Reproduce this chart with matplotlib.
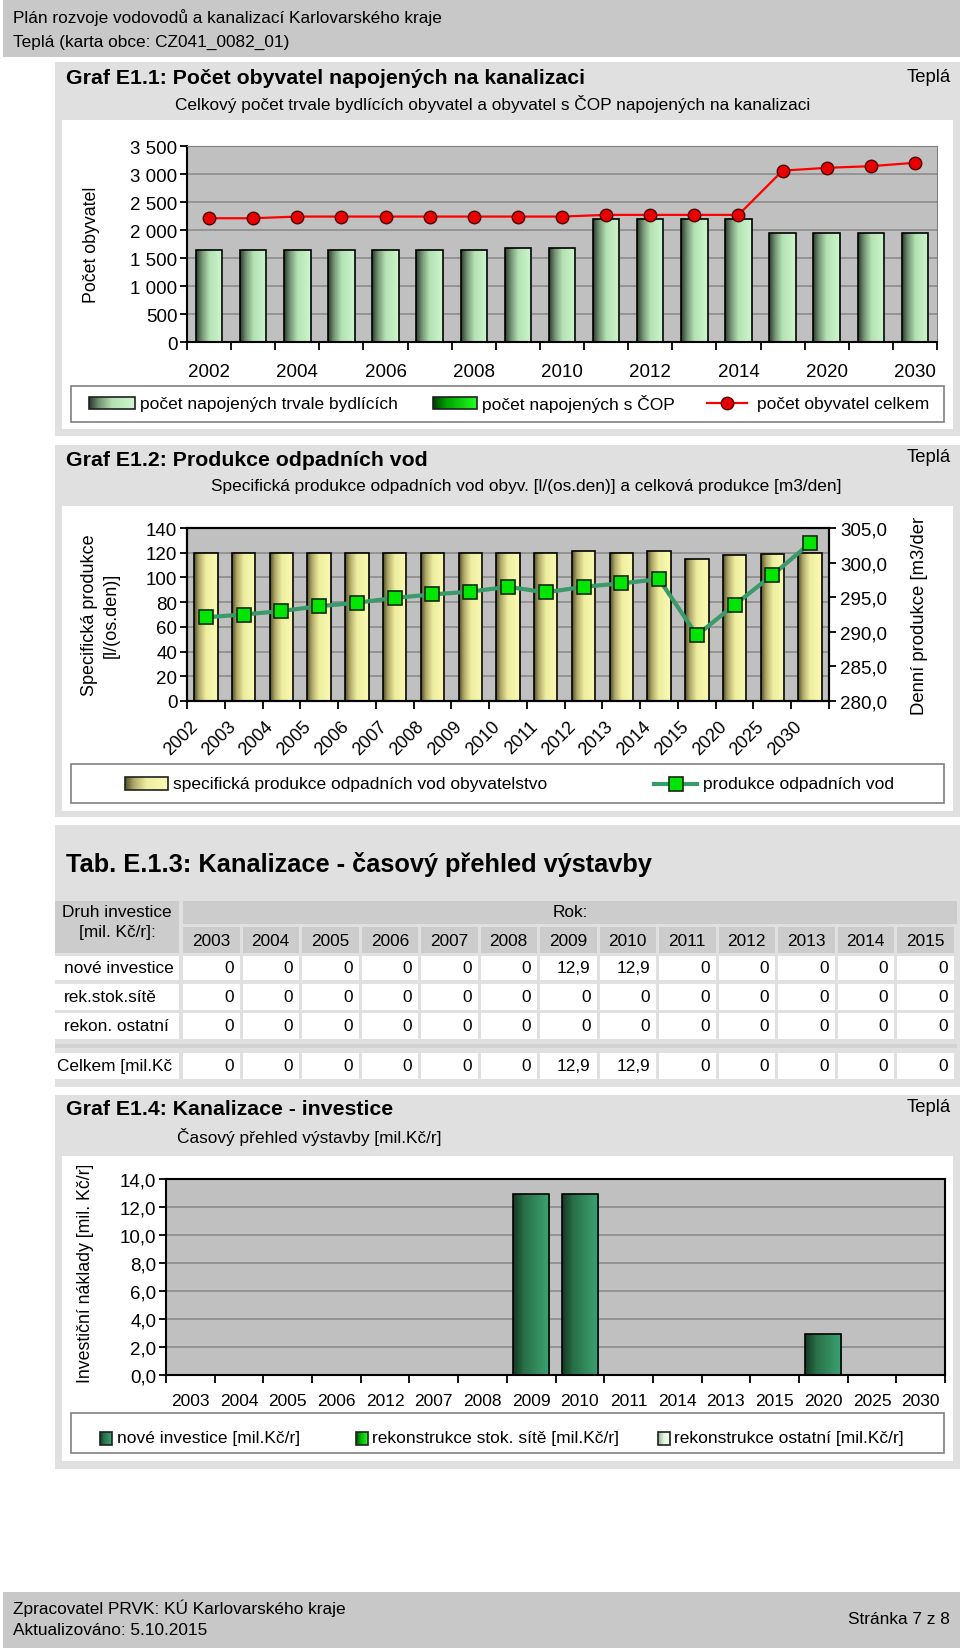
import numpy as np
import matplotlib
matplotlib.use('Agg')
import matplotlib.pyplot as plt
from matplotlib.patches import Rectangle
from matplotlib.colors import LinearSegmentedColormap
from matplotlib.ticker import FuncFormatter, MultipleLocator, FixedLocator
from matplotlib.transforms import Bbox, TransformedBbox

plt.rcParams['font.family'] = ['Liberation Sans', 'DejaVu Sans']

W, H = 960, 1649

# --- data ---
roky_1 = ['2002', '2003', '2004', '2005', '2006', '2007', '2008', '2009', '2010',
          '2011', '2012', '2013', '2014', '2015', '2020', '2025', '2030']
napojeni_trvale = [1650, 1650, 1650, 1650, 1650, 1650, 1650, 1680, 1680,
                   2200, 2200, 2200, 2200, 1940, 1940, 1940, 1940]
napojeni_cop = [0, 0, 0, 0, 0, 0, 0, 0, 0, 0, 0, 0, 0, 0, 0, 0, 0]
obyvatel_celkem = [2210, 2210, 2240, 2240, 2240, 2240, 2240, 2240, 2240,
                   2270, 2270, 2270, 2270, 3060, 3110, 3140, 3200]

roky_2 = roky_1
spec_produkce = [120, 120, 120, 120, 120, 120, 120, 120, 120,
                 120, 121.5, 120, 121.5, 115, 118, 119, 120]
produkce_vod = [292.1, 292.5, 293.0, 293.7, 294.2, 294.9, 295.4, 295.8, 296.5,
                295.7, 296.5, 297.0, 297.6, 289.5, 293.9, 298.2, 302.8]

tab_roky = ['2003', '2004', '2005', '2006', '2007', '2008', '2009', '2010',
            '2011', '2012', '2013', '2014', '2015']
nove_investice = [0, 0, 0, 0, 0, 0, 12.9, 12.9, 0, 0, 0, 0, 0]
rek_stok_site = [0, 0, 0, 0, 0, 0, 0, 0, 0, 0, 0, 0, 0]
rekon_ostatni = [0, 0, 0, 0, 0, 0, 0, 0, 0, 0, 0, 0, 0]

roky_4 = ['2003', '2004', '2005', '2006', '2012', '2007', '2008', '2009',
          '2010', '2011', '2014', '2013', '2015', '2020', '2025', '2030']
inv_nove = [0, 0, 0, 0, 0, 0, 0, 12.9, 12.9, 0, 0, 0, 0, 2.9, 0, 0]
inv_rek_stok = [0, 0, 0, 0, 0, 0, 0, 0, 0, 0, 0, 0, 0, 0, 0, 0]
inv_rek_ost = [0, 0, 0, 0, 0, 0, 0, 0, 0, 0, 0, 0, 0, 0, 0, 0]

# --- barvy ---
cm_zel = LinearSegmentedColormap.from_list('zel', [(0, '#2a3a2a'), (0.2, '#6f8f6f'), (0.5, '#b4e2b4'), (1, '#cdf6cd')])
cm_cop = LinearSegmentedColormap.from_list('cop', [(0, '#004000'), (0.3, '#00a000'), (1, '#20ff20')])
cm_zlu = LinearSegmentedColormap.from_list('zlu', [(0, '#50502a'), (0.2, '#b0a868'), (0.5, '#eeeea0'), (1, '#fafab4')])
cm_inv = LinearSegmentedColormap.from_list('inv', [(0, '#123822'), (0.3, '#2a7048'), (1, '#3ba472')])
cm_ost = LinearSegmentedColormap.from_list('ost', [(0, '#90b090'), (0.5, '#e0f8e0'), (1, '#f4fff4')])
GRAD = np.linspace(0, 1, 64).reshape(1, -1)
PANEL = '#e0e0e0'
PLOT_BG = '#c0c0c0'
GRID = '#8c8c8c'
FS = 12.4

fig = plt.figure(figsize=(W / 100, H / 100), dpi=100)
bg = fig.add_axes([0, 0, 1, 1])
bg.axis('off')


def box(x0, y0, x1, y1, fc, ec='none', lw=0, z=0):
    bg.add_patch(Rectangle((x0, y0), x1 - x0, y1 - y0, facecolor=fc, edgecolor=ec, linewidth=lw, zorder=z))


def txt(x, y, s, size=FS, **kw):
    kw.setdefault('va', 'center')
    return bg.text(x, y, s, fontsize=size, **kw)


def axes_px(x0, y0, x1, y1):
    return fig.add_axes([x0 / W, 1 - y1 / H, (x1 - x0) / W, (y1 - y0) / H])


def grad_patch(x0, y0, x1, y1, cmap, ec='#202020'):
    bg.imshow(GRAD, cmap=cmap, aspect='auto', extent=(x0, x1, y1, y0), zorder=5, interpolation='bilinear')
    box(x0, y0, x1, y1, 'none', ec, 1.2, 6)


def gradient_bars(ax, bars, cmap):
    for b in bars:
        if b.get_height() == 0:
            continue
        x, y = b.get_xy()
        im = ax.imshow(GRAD, cmap=cmap, aspect='auto', interpolation='bilinear',
                       extent=(x, x + b.get_width(), y, y + b.get_height()), zorder=2)
        im.set_clip_path(b)


def clip_text(t, x0, y0, x1, y1):
    t.set_clip_box(TransformedBbox(Bbox.from_extents(x0 / W, 1 - y1 / H, x1 / W, 1 - y0 / H), fig.transFigure))
    t.set_clip_on(True)


def cz(v, dec=1):
    return f'{v:.{dec}f}'.replace('.', ',')


def style_cat_axis(ax, n, labels, idx, pad, size, shift=0.0):
    ax.xaxis.set_major_locator(FixedLocator(np.arange(-0.5, n, 1)))
    ax.xaxis.set_major_formatter(FuncFormatter(lambda v, p: ''))
    ax.xaxis.set_minor_locator(FixedLocator(np.asarray(idx) + shift))
    ax.xaxis.set_minor_formatter(FuncFormatter(lambda v, p: labels[int(round(v - shift))]))
    ax.tick_params(axis='x', which='major', direction='out', length=6, width=1.3, color='black')
    ax.tick_params(axis='x', which='minor', length=0, pad=pad, labelsize=size)
    ax.set_xlim(-0.5, n - 0.5)


# --- hlavicka a paticka ---
box(3, 0, W, 58, '#c8c8c8')
txt(13, 18, 'Plán rozvoje vodovodů a kanalizací Karlovarského kraje')
txt(13, 42, 'Teplá (karta obce: CZ041_0082_01)')
box(3, 1593, W, H, '#c8c8c8')
txt(13, 1608, 'Zpracovatel PRVK: KÚ Karlovarského kraje')
txt(13, 1631, 'Aktualizováno: 5.10.2015')
txt(950, 1620, 'Stránka 7 z 8', ha='right')

# --- Graf E1.1 ---
box(55, 63, W, 437, PANEL)
box(62, 121, 953, 430, 'white')
txt(66, 79, 'Graf E1.1: Počet obyvatel napojených na kanalizaci', 15.3, weight='bold')
txt(951, 77, 'Teplá', 13.3, ha='right')
txt(493, 104, 'Celkový počet trvale bydlících obyvatel a obyvatel s ČOP napojených na kanalizaci', ha='center')
txt(92, 245, 'Počet obyvatel', 12.8, rotation=90, ha='center')

ax1 = axes_px(187, 147, 937, 343)
ax1.set_facecolor(PLOT_BG)
x1 = np.arange(len(roky_1))
b1 = ax1.bar(x1, napojeni_trvale, width=0.6, facecolor='none', edgecolor='black', linewidth=1.2, zorder=3)
gradient_bars(ax1, b1, cm_zel)
b1c = ax1.bar(x1, napojeni_cop, bottom=napojeni_trvale, width=0.6, facecolor='none', edgecolor='none', zorder=3)
gradient_bars(ax1, b1c, cm_cop)
ax1.plot(x1, obyvatel_celkem, color='#ff0000', lw=1.6, marker='o', ms=9, mfc='#e80000', mec='#500000', mew=1, zorder=4)
ax1.set_ylim(0, 3500)
ax1.yaxis.set_major_locator(MultipleLocator(500))
ax1.yaxis.set_major_formatter(FuncFormatter(lambda v, p: f'{int(v):,}'.replace(',', ' ')))
ax1.grid(axis='y', color=GRID, lw=1.2, zorder=1)
ax1.set_axisbelow(True)
style_cat_axis(ax1, len(roky_1), roky_1, x1[::2], 15, 13.5)
ax1.tick_params(axis='y', direction='out', length=5, width=1.3, labelsize=13.5, pad=2)
for s in ['left', 'bottom']:
    ax1.spines[s].set_linewidth(1.5)
for s in ['top', 'right']:
    ax1.spines[s].set_color('#808080')

box(71, 387, 944, 423, 'white', '#808080', 1.2, 4)
grad_patch(89, 398, 135, 410, cm_zel)
txt(140, 404, 'počet napojených trvale bydlících', 12.5, zorder=7)
grad_patch(433, 398, 477, 410, cm_cop)
txt(482, 404, 'počet napojených s ČOP', 12.5, zorder=7)
bg.plot([707, 747], [404, 404], color='#ff0000', lw=1.6, zorder=7)
bg.plot([727], [404], marker='o', ms=9, mfc='#e80000', mec='#500000', mew=1, zorder=8)
txt(757, 404, 'počet obyvatel celkem', 12.5, zorder=7)

# --- Graf E1.2 ---
box(55, 446, W, 818, PANEL)
box(62, 507, 953, 812, 'white')
txt(66, 461, 'Graf E1.2: Produkce odpadních vod', 15.3, weight='bold')
txt(951, 458, 'Teplá', 13.3, ha='right')
txt(526, 486, 'Specifická produkce odpadních vod obyv. [l/(os.den)] a celková produkce [m3/den]', ha='center')
txt(100, 615, 'Specifická produkce\n[l/(os.den)]', 13, rotation=90, ha='center', linespacing=1.35)
t = txt(920, 715, 'Denní produkce [m3/den]', 13.3, rotation=90, ha='center', va='bottom')
clip_text(t, 62, 519, 953, 812)

ax2 = axes_px(187, 529, 829, 702)
ax2.set_facecolor(PLOT_BG)
x2 = np.arange(len(roky_2))
b2 = ax2.bar(x2, spec_produkce, width=0.62, facecolor='none', edgecolor='black', linewidth=1.2, zorder=3)
gradient_bars(ax2, b2, cm_zlu)
ax2.set_ylim(0, 140)
ax2.yaxis.set_major_locator(MultipleLocator(20))
ax2.grid(axis='y', color=GRID, lw=1.2, zorder=1)
ax2.set_axisbelow(True)
style_cat_axis(ax2, len(roky_2), roky_2, x2, 16, 13, shift=-0.28)
for lab in ax2.get_xticklabels(which='minor'):
    lab.set_rotation(45)
    lab.set_ha('right')
    lab.set_va('center')
    lab.set_rotation_mode('anchor')
ax2.tick_params(axis='y', direction='out', length=5, width=1.3, labelsize=13.5, pad=2)
ax2r = ax2.twinx()
ax2r.plot(x2, produkce_vod, color='#3a9a6a', lw=3, marker='s', ms=10, mfc='#00e600', mec='#0a2a0a', mew=1.2, zorder=5)
ax2r.set_ylim(280, 305)
ax2r.yaxis.set_major_locator(MultipleLocator(5))
ax2r.yaxis.set_major_formatter(FuncFormatter(lambda v, p: cz(v)))
ax2r.tick_params(axis='y', direction='out', length=5, width=1.3, labelsize=13.5, pad=3)
for a in (ax2, ax2r):
    for s in a.spines.values():
        s.set_linewidth(1.5)

box(71, 765, 944, 804, 'white', '#808080', 1.2, 4)
grad_patch(125, 778, 168, 791, cm_zlu)
txt(173, 785, 'specifická produkce odpadních vod obyvatelstvo', 12.5, zorder=7)
bg.plot([654, 697], [785, 785], color='#3a9a6a', lw=3, zorder=7)
bg.plot([676], [785], marker='s', ms=10, mfc='#00e600', mec='#0a2a0a', mew=1.2, zorder=8)
txt(703, 785, 'produkce odpadních vod', 12.5, zorder=7)

# --- Tab. E.1.3 ---
box(55, 826, W, 1088, PANEL)
txt(66, 865, 'Tab. E.1.3: Kanalizace - časový přehled výstavby', 18.3, weight='bold')
HDR = '#cccccc'
box(55, 902, 179, 954, HDR)
txt(117, 913, 'Druh investice', ha='center')
txt(117, 933, '[mil. Kč/r]:', ha='center')
box(183, 902, 957, 925, HDR)
txt(570, 913, 'Rok:', ha='center')
tx0, cw = 183, 59.5
for i, r in enumerate(tab_roky):
    lx = tx0 + i * cw
    box(lx, 928, lx + cw - 3, 954, HDR)
    txt(lx + (cw - 3) / 2, 942, r, ha='center')

celkem = [a + b + c for a, b, c in zip(nove_investice, rek_stok_site, rekon_ostatni)]
radky = [('nové investice', nove_investice, 957, 981, 64),
         ('rek.stok.sítě', rek_stok_site, 985, 1011, 64),
         ('rekon. ostatní', rekon_ostatni, 1014, 1040, 64),
         ('Celkem [mil.Kč', celkem, 1054, 1080, 57)]
for nazev, vals, y0, y1, lx_txt in radky:
    box(55, y0, 179, y1, 'white')
    t = txt(lx_txt, (y0 + y1) / 2, nazev)
    clip_text(t, 55, y0, 179, y1)
    for i, v in enumerate(vals):
        lx = tx0 + i * cw
        box(lx, y0, lx + cw - 3, y1, 'white')
        s = '0' if v == 0 else cz(v)
        txt(lx + cw - 9, (y0 + y1) / 2, s, ha='right')
box(55, 1045, 957, 1049, '#d2d2d2')

# --- Graf E1.4 ---
box(55, 1096, W, 1470, PANEL)
box(62, 1157, 953, 1462, 'white')
txt(66, 1110, 'Graf E1.4: Kanalizace - investice', 15.3, weight='bold')
txt(951, 1108, 'Teplá', 13.3, ha='right')
txt(177, 1137, 'Časový přehled výstavby [mil.Kč/r]')
t = txt(86, 1383, 'Investiční náklady [mil. Kč/r]', 12.8, rotation=90, ha='center', va='bottom')
clip_text(t, 62, 1167, 953, 1462)

ax4 = axes_px(166, 1180, 945, 1376)
ax4.set_facecolor(PLOT_BG)
x4 = np.arange(len(roky_4))
b4 = ax4.bar(x4, inv_nove, width=0.74, facecolor='none', edgecolor='black', linewidth=1.2, zorder=3)
gradient_bars(ax4, b4, cm_inv)
ax4.set_ylim(0, 14)
ax4.yaxis.set_major_locator(MultipleLocator(2))
ax4.yaxis.set_major_formatter(FuncFormatter(lambda v, p: cz(v)))
ax4.grid(axis='y', color=GRID, lw=1.2, zorder=1)
ax4.set_axisbelow(True)
style_cat_axis(ax4, len(roky_4), roky_4, x4, 13, 12.5)
ax4.tick_params(axis='y', direction='out', length=5, width=1.3, labelsize=13.5, pad=2)
for s in ax4.spines.values():
    s.set_linewidth(1.5)

box(71, 1414, 944, 1454, 'white', '#808080', 1.2, 4)
grad_patch(100, 1433, 112, 1446, cm_inv)
txt(117, 1439, 'nové investice [mil.Kč/r]', 12.5, zorder=7)
grad_patch(356, 1433, 368, 1446, cm_cop)
txt(372, 1439, 'rekonstrukce stok. sítě [mil.Kč/r]', 12.5, zorder=7)
grad_patch(658, 1433, 670, 1446, cm_ost)
txt(674, 1439, 'rekonstrukce ostatní [mil.Kč/r]', 12.5, zorder=7)

bg.set_xlim(0, W)
bg.set_ylim(H, 0)
fig.savefig('out.png', dpi=100, facecolor='white')
